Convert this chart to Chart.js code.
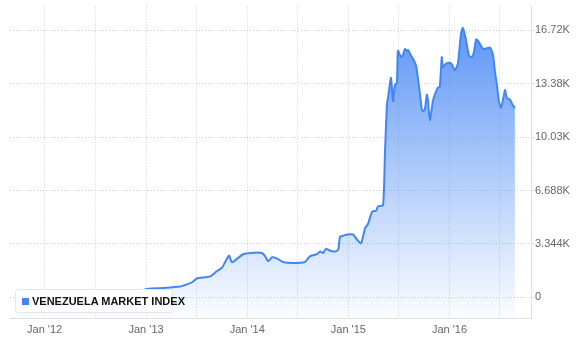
<!DOCTYPE html>
<html>
<head>
<meta charset="utf-8">
<script src="https://cdn.jsdelivr.net/npm/chart.js@4"></script>
<style>
  html, body { margin: 0; padding: 0; background: #fff; }
  #wrap { position: relative; width: 580px; height: 350px; }
  #legend {
    position: absolute; left: 15px; top: 289px; width: 156px; height: 22px;
    background: #fff; border: 1px solid #e2e6ee; border-radius: 3px;
    font: bold 11px "Liberation Sans", Arial, sans-serif; color: #111;
    line-height: 22px; white-space: nowrap;
  }
  #legend i {
    display: inline-block; width: 7px; height: 7px; background: #4285f4;
    margin: 0 3px 0 6px; vertical-align: 0px;
  }
</style>
</head>
<body>
<div id="wrap">
  <canvas id="chart" width="580" height="350"></canvas>
  <div id="legend"><i></i>VENEZUELA MARKET INDEX</div>
</div>
<script>
// values
const dates = [
  '2011-09-24', '2011-11-01', '2012-01-15', '2012-04-01', '2012-07-01', '2012-10-01',
  '2012-12-10', '2013-01-05', '2013-02-21', '2013-04-08', '2013-05-03', '2013-05-28',
  '2013-06-16', '2013-07-03', '2013-08-20', '2013-09-14', '2013-10-02', '2013-10-27',
  '2013-11-07', '2013-12-17', '2014-01-26', '2014-02-24', '2014-03-07', '2014-03-17',
  '2014-04-01', '2014-04-19', '2014-05-10', '2014-06-15', '2014-07-28', '2014-08-15',
  '2014-09-10', '2014-09-21', '2014-10-02', '2014-10-12', '2014-10-27', '2014-11-14',
  '2014-11-25', '2014-12-02', '2014-12-13', '2014-12-28', '2015-01-18', '2015-02-02',
  '2015-02-16', '2015-03-02', '2015-03-13', '2015-03-28', '2015-04-11', '2015-04-18',
  '2015-05-06', '2015-05-13', '2015-05-20', '2015-05-24', '2015-06-04', '2015-06-11',
  '2015-06-18', '2015-06-25', '2015-06-29', '2015-07-10', '2015-07-17', '2015-07-24',
  '2015-07-31', '2015-08-04', '2015-08-15', '2015-08-22', '2015-09-02', '2015-09-09',
  '2015-09-16', '2015-09-23', '2015-09-27', '2015-10-04', '2015-10-11', '2015-10-15',
  '2015-10-22', '2015-11-02', '2015-11-09', '2015-11-20', '2015-11-27', '2015-12-04',
  '2015-12-08', '2015-12-19', '2016-01-02', '2016-01-10', '2016-01-20', '2016-01-31',
  '2016-02-11', '2016-02-18', '2016-02-29', '2016-03-11', '2016-03-22', '2016-03-29',
  '2016-04-06', '2016-04-13', '2016-05-01', '2016-05-15', '2016-05-26', '2016-06-06',
  '2016-06-13', '2016-06-20', '2016-06-27', '2016-07-05', '2016-07-12', '2016-07-19',
  '2016-07-26', '2016-08-06', '2016-08-17', '2016-08-24'
];
const values = [
  90, 100, 110, 130, 170, 230,
  400, 530, 580, 640, 680, 820,
  950, 1180, 1320, 1650, 1860, 2620,
  2200, 2700, 2800, 2760, 2570, 2270,
  2510, 2430, 2220, 2160, 2220, 2570,
  2710, 2880, 2780, 3040, 2920, 2880,
  2980, 3800, 3860, 3940, 3940, 3600,
  3390, 4320, 4610, 5370, 5430, 5700,
  5760, 9000, 12060, 12490, 13740, 12270,
  13290, 13410, 15430, 15030, 15170, 15540,
  15430, 15480, 15130, 14930, 14520, 13700,
  12780, 11760, 11660, 11760, 12680, 12370,
  11090, 12270, 12680, 13130, 13190, 15030,
  14410, 14620, 14680, 14560, 14210, 14620,
  16460, 16860, 16150, 15130, 15030, 15330,
  16150, 16050, 15540, 15580, 15640, 15170,
  14110, 13290, 12270, 11860, 12370, 12980,
  12470, 12370, 12000, 11860
];
const yTickValues = [0, 3344, 6688, 10032, 13376, 16720];
const yTickLabels = ['0', '3.344K', '6.688K', '10.03K', '13.38K', '16.72K'];
const xTickDates = ['2012-01-01', '2012-07-01', '2013-01-01', '2013-07-01', '2014-01-01',
  '2014-07-01', '2015-01-01', '2015-07-01', '2016-01-01', '2016-07-01'];
const xTickLabels = ["Jan '12", '', "Jan '13", '', "Jan '14", '', "Jan '15", '', "Jan '16", ''];

const blue = '#4285f4';
const font = { family: '"Liberation Sans", Arial, sans-serif', size: 11 };

const points = dates.map((d, i) => ({ x: Date.parse(d), y: values[i] }));
const xTicks = xTickDates.map(d => Date.parse(d));

new Chart(document.getElementById('chart'), {
  type: 'line',
  data: {
    datasets: [{
      label: 'VENEZUELA MARKET INDEX',
      data: points,
      borderColor: blue,
      borderWidth: 2,
      pointRadius: 0,
      tension: 0.2,
      fill: 'start',
      backgroundColor: (ctx) => {
        const area = ctx.chart.chartArea;
        if (!area) return 'rgba(66,133,244,0.4)';
        const g = ctx.chart.ctx.createLinearGradient(0, area.top, 0, area.bottom);
        g.addColorStop(0, 'rgba(66,133,244,0.92)');
        g.addColorStop(0.5, 'rgba(66,133,244,0.45)');
        g.addColorStop(1, 'rgba(66,133,244,0.02)');
        return g;
      }
    }]
  },
  options: {
    responsive: false,
    animation: false,
    layout: { padding: { left: 10, top: 0, right: 0, bottom: 0 } },
    plugins: { legend: { display: false }, tooltip: { enabled: false } },
    scales: {
      x: {
        type: 'linear',
        min: Date.parse('2011-08-29'),
        max: Date.parse('2016-10-21'),
        afterBuildTicks: (scale) => { scale.ticks = xTicks.map(v => ({ value: v })); },
        afterFit: (scale) => { scale.height = 32; },
        ticks: {
          autoSkip: false, maxRotation: 0, padding: 5, color: '#666', font,
          callback: (v, i) => xTickLabels[i]
        },
        grid: { color: '#cfcfcf', drawTicks: false },
        border: { color: '#e0e0e0', dash: [1, 2] }
      },
      y: {
        position: 'right',
        min: -1286,
        max: 18191,
        afterBuildTicks: (scale) => { scale.ticks = yTickValues.map(v => ({ value: v })); },
        afterFit: (scale) => { scale.width = 49; },
        ticks: {
          padding: 0, color: '#666', font,
          callback: (v, i) => yTickLabels[i]
        },
        grid: { color: '#cfcfcf', tickLength: 4, tickColor: '#ddd', tickBorderDash: [] },
        border: { color: '#e0e0e0', dash: [1, 2] }
      }
    }
  }
});
</script>
</body>
</html>
